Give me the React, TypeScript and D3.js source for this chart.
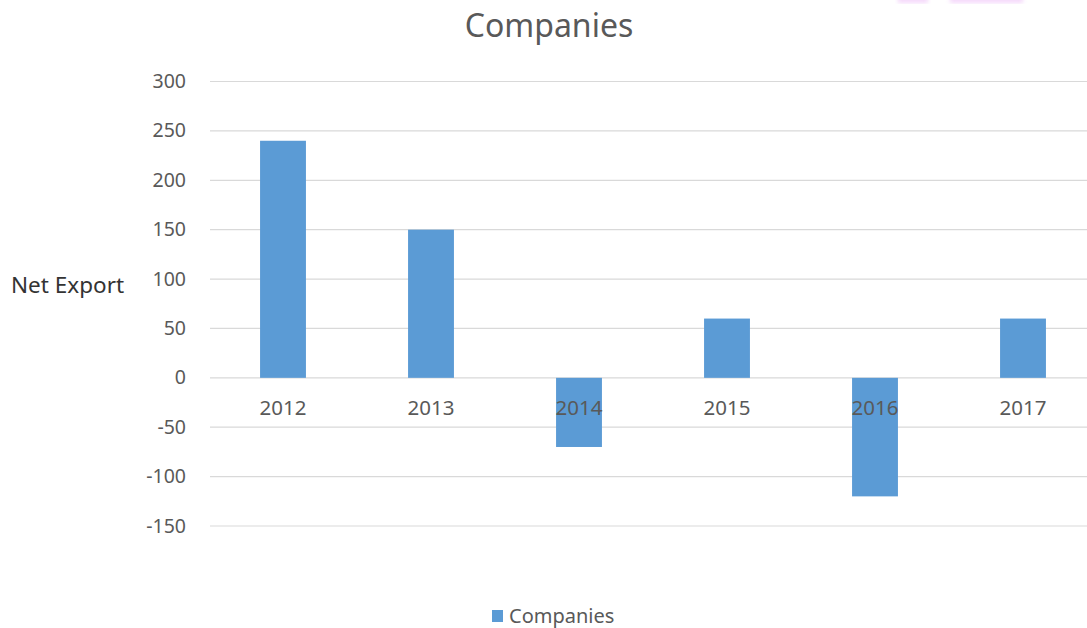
import React from "react";
import * as d3 from "d3";

const categories = ["2012", "2013", "2014", "2015", "2016", "2017"];
const values = [240, 150, -70, 60, -120, 60];
const yTicks = [300, 250, 200, 150, 100, 50, 0, -50, -100, -150];
const seriesName = "Companies";
const chartTitle = "Companies";
const yAxisTitle = "Net Export";

const W = 1087;
const H = 628;
const FONT = "'Noto Sans', 'Open Sans', sans-serif";
const TXT = "#595959";

export default function App() {
  const x = d3.scaleBand<string>().domain(categories).range([209, 1097]).paddingInner(0.69).paddingOuter(0.345);
  const y = d3.scaleLinear().domain([-150, 300]).range([526, 81.5]);
  const bw = x.bandwidth();
  return (
    <svg width={W} height={H} style={{ position: "absolute", left: 0, top: 0, background: "#fff" }}>
      <defs>
        <filter id="blur"><feGaussianBlur stdDeviation="2" /></filter>
      </defs>
      <rect x={898} y={-4} width={30} height={7} fill="#f0c8f8" filter="url(#blur)" opacity={0.7} />
      <rect x={950} y={-4} width={73} height={7} fill="#f0c8f8" filter="url(#blur)" opacity={0.7} />
      <text x={549} y={37} textAnchor="middle" fontFamily={FONT} fontSize={32} fill={TXT}>{chartTitle}</text>
      {yTicks.map((t) => (
        <g key={t}>
          <line x1={210} x2={1097} y1={y(t)} y2={y(t)} stroke="#d9d9d9" strokeWidth={1.2} />
          <text x={186} y={y(t) + 6.5} textAnchor="end" fontFamily={FONT} fontSize={19.5} fill={TXT}>{t}</text>
        </g>
      ))}
      {categories.map((c, i) => {
        const v = values[i];
        return (
          <rect key={c} x={x(c)} y={y(Math.max(0, v))} width={bw} height={Math.abs(y(v) - y(0))} fill="#5b9bd5" />
        );
      })}
      {categories.map((c) => (
        <text key={c} x={(x(c) as number) + bw / 2} y={415} textAnchor="middle" fontFamily={FONT} fontSize={20.5} fill={TXT}>{c}</text>
      ))}
      <text x={11} y={293} fontFamily={FONT} fontSize={22.5} fill="#333333">{yAxisTitle}</text>
      <rect x={492} y={610} width={11} height={12} fill="#5b9bd5" />
      <text x={509} y={623} fontFamily={FONT} fontSize={20} fill={TXT}>{seriesName}</text>
    </svg>
  );
}
